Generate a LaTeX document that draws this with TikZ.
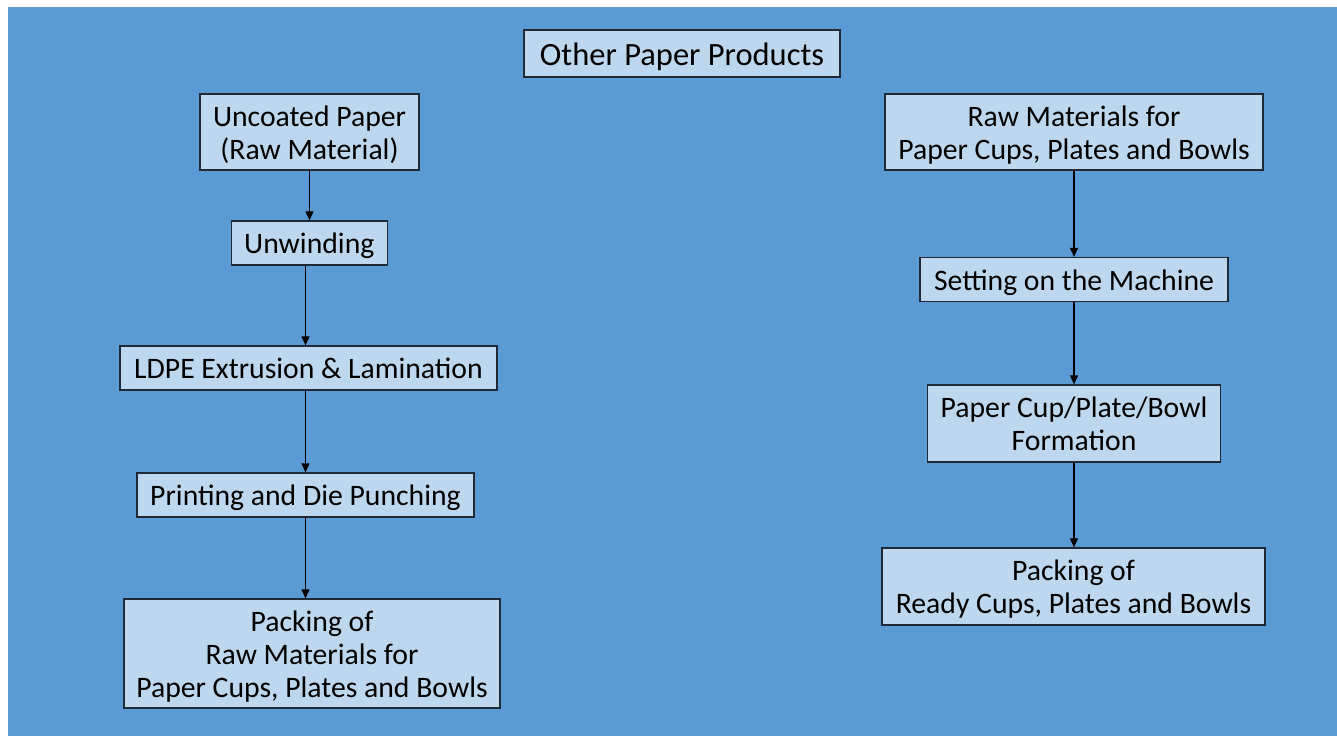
\documentclass[tikz,border=0pt]{standalone}
\usepackage{fontspec}
\setmainfont{Carlito}
\usetikzlibrary{arrows.meta}
\definecolor{bgblue}{HTML}{5B9BD5}
\definecolor{boxfill}{HTML}{BDD7EE}
\definecolor{boxline}{HTML}{1F2A36}
\begin{document}
\begin{tikzpicture}[x=1pt,y=-1pt,
  box/.style={draw=boxline, line width=1.3pt, fill=boxfill, inner sep=0pt, align=center,
    font=\fontsize{29.7}{33}\selectfont, text=black, text height=27pt, text depth=6pt},
  twoline/.style={text height=60pt},
  threeline/.style={text height=93pt},
  conn/.style={draw=black, line width=1.1pt, -{Triangle[length=9pt,width=8pt]}}]
\useasboundingbox (0,0) rectangle (1337,736);
\fill[bgblue] (8,7) rectangle (1337,736);
\node[box, minimum width=316pt, minimum height=47pt, font=\fontsize{32.5}{36}\selectfont, text height=30pt, text depth=6.5pt] (title) at (682,53.5) {Other Paper Products};
% left column
\node[box, twoline, minimum width=219pt, minimum height=76pt] (uncoated) at (309.5,132) {Uncoated Paper\\(Raw Material)};
\node[box, minimum width=156pt, minimum height=44pt] (unwind) at (309.3,243) {Unwinding};
\node[box, minimum width=377pt, minimum height=44pt] (ldpe) at (308.5,368) {LDPE Extrusion \& Lamination};
\node[box, minimum width=337pt, minimum height=44pt] (print) at (305.5,495) {Printing and Die Punching};
\node[box, threeline, minimum width=376pt, minimum height=109pt] (packL) at (312,653.5) {Packing of\\Raw Materials for\\Paper Cups, Plates and Bowls};
% right column
\node[box, twoline, minimum width=378pt, minimum height=76pt] (rawR) at (1074,132) {Raw Materials for\\Paper Cups, Plates and Bowls};
\node[box, minimum width=308pt, minimum height=44pt] (setting) at (1074,279.5) {Setting on the Machine};
\node[box, twoline, minimum width=293pt, minimum height=77pt] (form) at (1074,423.5) {Paper Cup/Plate/Bowl\\Formation};
\node[box, twoline, minimum width=383pt, minimum height=77pt] (packR) at (1073.5,586.5) {Packing of\\Ready Cups, Plates and Bowls};
% connectors
\draw[conn] (uncoated.south) -- (uncoated.south |- unwind.north);
\coordinate (lx) at (305.5,0);
\draw[conn] (lx |- unwind.south) -- (lx |- ldpe.north);
\draw[conn] (lx |- ldpe.south) -- (lx |- print.north);
\draw[conn] (lx |- print.south) -- (lx |- packL.north);
\draw[conn] (rawR.south) -- (rawR.south |- setting.north);
\draw[conn] (setting.south) -- (form.north);
\draw[conn] (form.south) -- (form.south |- packR.north);
\end{tikzpicture}
\end{document}
